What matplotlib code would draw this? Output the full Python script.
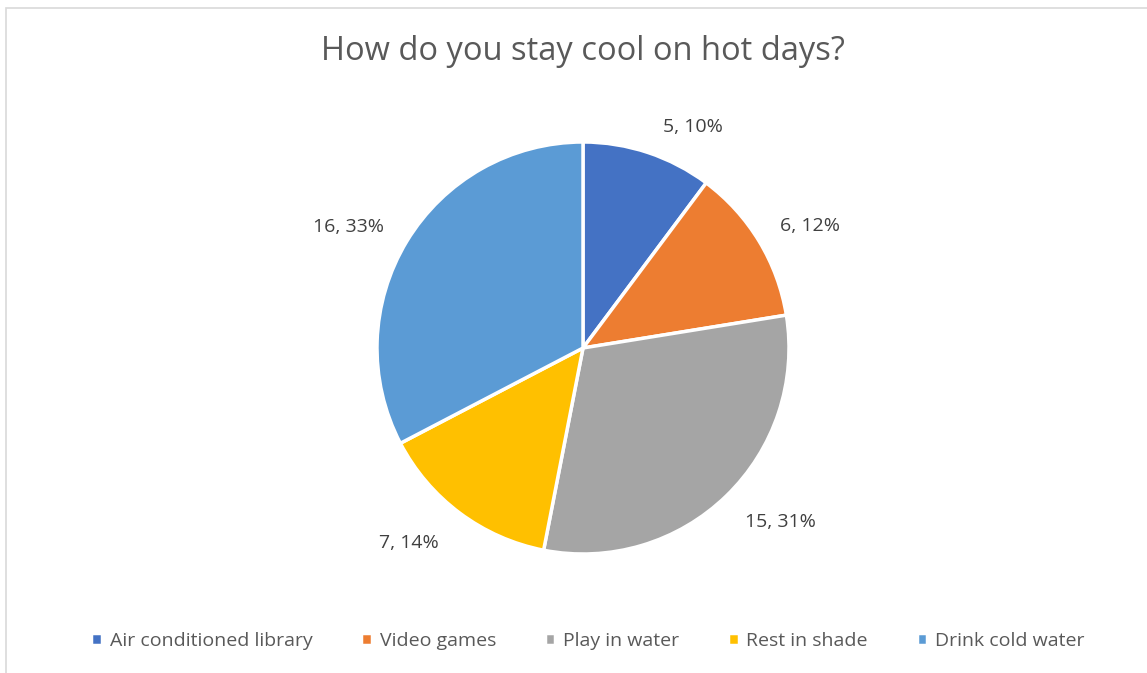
import matplotlib.pyplot as plt
from matplotlib.patches import Rectangle
import numpy as np

# survey answers
labels = ['Air conditioned library', 'Video games', 'Play in water', 'Rest in shade', 'Drink cold water']
counts = [5, 6, 15, 7, 16]
colors = ['#4472C4', '#ED7D31', '#A5A5A5', '#FFC000', '#5B9BD5']

plt.rcParams['font.family'] = ['Open Sans', 'DejaVu Sans']

W, H = 1147, 673
fig = plt.figure(figsize=(W / 100, H / 100), dpi=100)

# chart border (screenshot crops it on the right and bottom)
fig.patches.append(Rectangle((6 / W, -0.1), 1.2, 1 - 8 / H + 0.1, transform=fig.transFigure,
                             fill=False, edgecolor='#d9d9d9', linewidth=1.2))

R = 206
cx, cy = 583, H - 348
ax = fig.add_axes([(cx - 1.5 * R) / W, (cy - 1.5 * R) / H, 3 * R / W, 3 * R / H])

total = sum(counts)
pct_labels = ['%d, %d%%' % (c, round(100 * c / total)) for c in counts]

wedges, _ = ax.pie(counts, colors=colors, startangle=90, counterclock=False,
                   wedgeprops=dict(edgecolor='white', linewidth=2.5))

# data labels placed "best fit" like Excel: nudge angle / distance per slice
nudge = [-8, -3, 4.5, -5, 4]
dist = [1.20, 1.25, 1.28, 1.27, 1.28]
for w, lab, dn, d in zip(wedges, pct_labels, nudge, dist):
    a = np.deg2rad((w.theta1 + w.theta2) / 2 + dn)
    ax.text(d * np.cos(a), d * np.sin(a), lab, ha='center', va='center',
            fontsize=14, color='#404040')

ax.set_xlim(-1.5, 1.5)
ax.set_ylim(-1.5, 1.5)
ax.set_aspect('equal')
ax.axis('off')

fig.text(cx / W, 1 - 51 / H, 'How do you stay cool on hot days?', ha='center', va='center',
         fontsize=23.5, color='#595959')

fig.legend(wedges, labels, loc='center', bbox_to_anchor=(588 / W, 1 - 641 / H), ncol=5,
           frameon=False, fontsize=14, labelcolor='#595959', handlelength=0.55, handleheight=0.55,
           handletextpad=0.4, columnspacing=2.5)

fig.savefig('out.png', dpi=100)
